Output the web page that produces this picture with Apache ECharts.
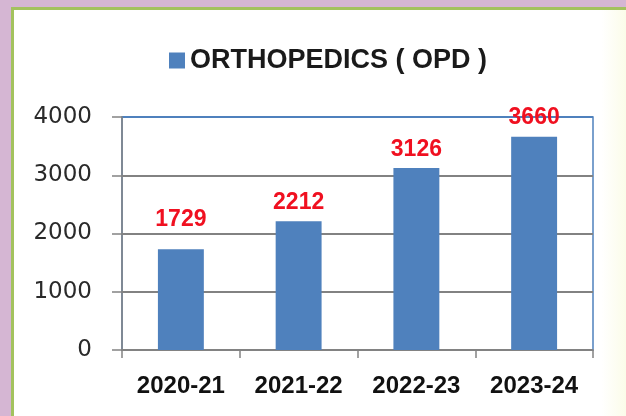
<!DOCTYPE html>
<html>
<head>
<meta charset="utf-8">
<script src="https://cdn.jsdelivr.net/npm/echarts@6/dist/echarts.min.js"></script>
<style>
    html, body { margin: 0; padding: 0; }
    body { width: 626px; height: 416px; background: #d5b6d3; position: relative; overflow: hidden; }
    .panel {
        position: absolute; left: 11px; top: 7px; right: 0; bottom: 0;
        background: linear-gradient(to right, #ffffff 0%, #ffffff 96%, #fbfce9 100%);
        border-left: 3px solid #a3c25e;
        border-top: 3px solid #a3c25e;
    }
    #chart { position: absolute; left: 0; top: 0; width: 626px; height: 416px; }
</style>
</head>
<body>
<div class="panel"></div>
<div id="chart"></div>
<script>
    // values
    const years = ['2020-21', '2021-22', '2022-23', '2023-24'];
    const opdCount = [1729, 2212, 3126, 3660];
    const seriesName = 'ORTHOPEDICS ( OPD )';

    const chart = echarts.init(document.getElementById('chart'));
    const barBlue = '#4f81bd';
    const grey = '#828282';
    // the first label sits a bit higher in the original
    const labelGap = [18, 7, 7, 8];

    const option = {
        animation: false,
        legend: {
            data: [seriesName],
            left: 164,
            top: 42,
            icon: 'rect',
            itemWidth: 16,
            itemHeight: 16,
            itemGap: 8,
            textStyle: {
                fontFamily: 'Liberation Sans',
                fontWeight: 'bold',
                fontSize: 27,
                color: '#1a1a1a'
            }
        },
        grid: {
            left: 122,
            right: 33,
            top: 117,
            bottom: 66,
            show: true,
            borderColor: barBlue,
            borderWidth: 1.5,
            backgroundColor: 'transparent'
        },
        xAxis: {
            type: 'category',
            data: years,
            axisLine: { lineStyle: { color: grey, width: 1.5 } },
            axisTick: { show: true, interval: 0, length: 8, lineStyle: { color: grey, width: 1.5 } },
            axisLabel: {
                interval: 0,
                hideOverlap: false,
                margin: 24,
                color: '#111',
                fontFamily: 'Liberation Sans',
                fontWeight: 'bold',
                fontSize: 24
            }
        },
        yAxis: {
            type: 'value',
            min: 0,
            max: 4000,
            interval: 1000,
            axisLine: { show: true, lineStyle: { color: grey, width: 1.5 } },
            axisTick: { show: true, inside: false, length: 10, lineStyle: { color: grey, width: 1.5 } },
            axisLabel: {
                margin: 30,
                color: '#2a2a2a',
                fontFamily: 'DejaVu Sans',
                fontSize: 23,
                formatter: function (v) { return String(v); }
            },
            splitLine: {
                show: true,
                lineStyle: { color: [grey, grey, grey, grey, barBlue], width: 2 }
            }
        },
        series: [
            {
                name: seriesName,
                type: 'bar',
                barWidth: '39%',
                itemStyle: { color: barBlue },
                data: opdCount.map(function (v, i) {
                    return { value: v, label: { distance: labelGap[i] } };
                }),
                label: {
                    show: true,
                    position: 'top',
                    color: '#f01020',
                    fontFamily: 'Liberation Sans',
                    fontWeight: 'bold',
                    fontSize: 23
                }
            }
        ]
    };
    chart.setOption(option);
</script>
</body>
</html>
